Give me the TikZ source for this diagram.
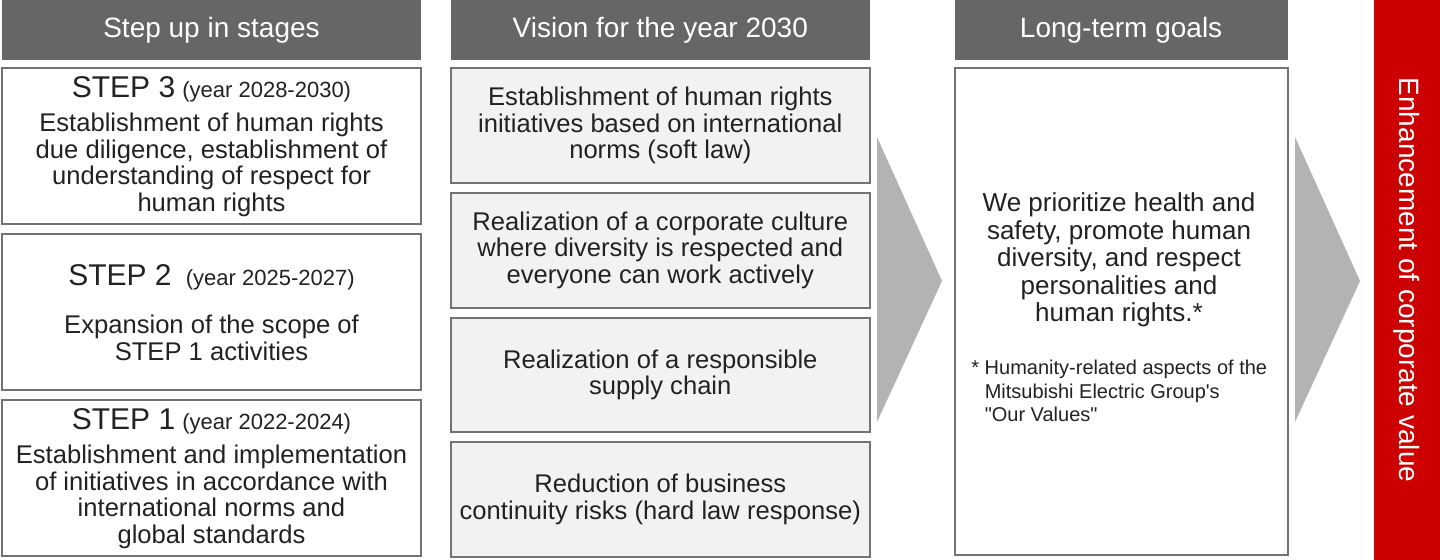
\documentclass[tikz,border=0pt]{standalone}
\usepackage{fontspec}
\setmainfont{Liberation Sans}
\usetikzlibrary{positioning}
\definecolor{hdrgray}{HTML}{666666}
\definecolor{boxline}{HTML}{737373}
\definecolor{boxfill}{HTML}{F2F2F2}
\definecolor{chevron}{HTML}{B3B3B3}
\definecolor{valuered}{HTML}{CC0000}
\definecolor{txt}{HTML}{222222}
\newcommand{\stepfont}{\fontsize{15}{16}\selectfont}
\newcommand{\yearfont}{\fontsize{11}{13}\selectfont}
\tikzset{
    x=0.5pt, y=-0.5pt, % one unit is one pixel of the layout
    node distance=4pt, % gap between the boxes of a column
    header/.style={ % dark title bar on top of each column
        fill=hdrgray,
        text=white,
        minimum height=30pt,
        inner sep=0pt,
        font=\fontsize{14}{16}\selectfont
    },
    stepbox/.style={ % white boxes of the first column
        draw=boxline,
        line width=1pt,
        fill=white,
        text=txt,
        minimum width=209.5pt,
        minimum height=78pt,
        align=center,
        inner sep=0pt,
        font=\fontsize{12.8}{13.2}\selectfont
    },
    visionbox/.style={ % grey boxes of the second column
        stepbox,
        fill=boxfill,
        minimum height=57.3pt
    }
}
\begin{document}
\begin{tikzpicture}
    \useasboundingbox (0,0) rectangle (1440,560);
    % column titles
    \node[header, minimum width=209.5pt] (hstep) at (211.5,30) {Step up in stages};
    \node[header, minimum width=209.5pt, right=14.5pt of hstep] (hvision) {Vision for the year 2030};
    \node[header, minimum width=166.5pt, right=42pt of hvision] (hgoal) {Long-term goals};
    % steps
    \node[stepbox, below=3.5pt of hstep] (step3) {{\stepfont STEP 3} {\yearfont (year 2028-2030)}\\[4pt]
        Establishment of human rights\\ due diligence, establishment of\\ understanding of respect for\\ human rights};
    \node[stepbox, below=of step3] (step2) {{\stepfont STEP 2} \ {\yearfont (year 2025-2027)}\\[11pt]
        Expansion of the scope of\\ STEP 1 activities};
    \node[stepbox, below=of step2] (step1) {{\stepfont STEP 1} {\yearfont (year 2022-2024)}\\[4pt]
        Establishment and implementation\\ of initiatives in accordance with\\ international norms and\\ global standards};
    % vision
    \node[visionbox, below=3.5pt of hvision] (vis1) {Establishment of human rights\\ initiatives based on international\\ norms (soft law)};
    \node[visionbox, below=of vis1] (vis2) {Realization of a corporate culture\\ where diversity is respected and\\ everyone can work actively};
    \node[visionbox, below=of vis2] (vis3) {Realization of a responsible\\ supply chain};
    \node[visionbox, below=of vis3] (vis4) {Reduction of business\\ continuity risks (hard law response)};
    % goals
    \node[stepbox, minimum width=166.5pt, minimum height=243.5pt, below=3.5pt of hgoal] (goal) {};
    \node[text=txt, align=center, font=\fontsize{13}{13.8}\selectfont] (goaltext) at (1119,260)
        {We prioritize health and\\ safety, promote human\\ diversity, and respect\\ personalities and\\ human rights.*};
    \node[text=txt, align=left, anchor=north west, inner sep=0pt, font=\fontsize{10}{11.6}\selectfont] (note) at (971,360)
        {*\ Humanity-related aspects of the\\ \hphantom{*\ }Mitsubishi Electric Group\textquotesingle s\\ \hphantom{*\ }\textquotedbl Our Values\textquotedbl};
    % chevrons
    \fill[chevron] (877,137) -- (942,281) -- (877,422) -- cycle;
    \fill[chevron] (1295,137) -- (1360,281) -- (1295,422) -- cycle;
    % result bar
    \node[fill=valuered, text=white, rotate=-90, minimum width=280pt, minimum height=33pt,
        inner sep=0pt, font=\fontsize{14}{16}\selectfont] (value) at (1407,280) {Enhancement of corporate value};
\end{tikzpicture}
\end{document}
